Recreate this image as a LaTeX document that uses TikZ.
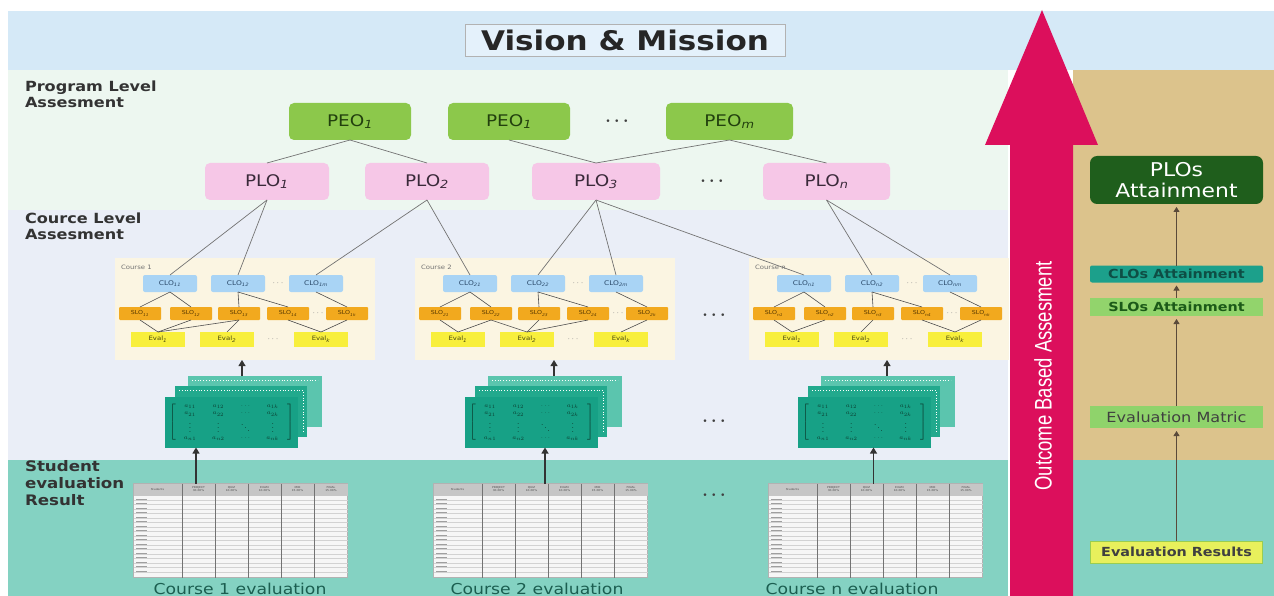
\documentclass[tikz,border=0pt]{standalone}
\usepackage{fontspec}
\usepackage{graphicx}
\setmainfont{DejaVu Sans}[FakeStretch=1.15]
\newfontfamily\narrowfont{Liberation Sans}[FakeStretch=0.77]
\usetikzlibrary{arrows.meta,calc}
\definecolor{bandA}{HTML}{D5E9F7}
\definecolor{bandB}{HTML}{EDF7F0}
\definecolor{bandC}{HTML}{EAEEF7}
\definecolor{bandD}{HTML}{84D2C2}
\definecolor{tanbg}{HTML}{DCC38C}
\definecolor{oba}{HTML}{DC0F5C}
\definecolor{peo}{HTML}{8CC84B}
\definecolor{peotxt}{HTML}{22400E}
\definecolor{plo}{HTML}{F6C7E7}
\definecolor{plotxt}{HTML}{3A2A3A}
\definecolor{clo}{HTML}{A9D4F5}
\definecolor{clotxt}{HTML}{2B4A6A}
\definecolor{slo}{HTML}{F2A91E}
\definecolor{slotxt}{HTML}{5A3A00}
\definecolor{evl}{HTML}{F8EF3C}
\definecolor{evltxt}{HTML}{4A4A10}
\definecolor{crs}{HTML}{FBF5E2}
\definecolor{mat}{HTML}{17A186}
\definecolor{matm}{HTML}{22A98D}
\definecolor{matb}{HTML}{5BC5AE}
\definecolor{matx}{HTML}{0B3D30}
\definecolor{dkgreen}{HTML}{1F5E1C}
\definecolor{capt}{HTML}{1B5E50}
\definecolor{lbl}{HTML}{333333}
\definecolor{visfill}{HTML}{E4F1FB}
\definecolor{cloatt}{HTML}{1CA08B}
\definecolor{cloatttxt}{HTML}{0E4E45}
\definecolor{sloatt}{HTML}{92D46C}
\definecolor{sloatttxt}{HTML}{1C5A18}
\definecolor{evmatc}{HTML}{8FD36B}
\definecolor{evrest}{HTML}{E8F05C}
\definecolor{evresb}{HTML}{9ACD50}
\definecolor{rarrc}{HTML}{5A4A3A}
\newcommand\sbs[1]{\textsubscript{\itshape #1}}
\tikzset{
  every node/.style={inner sep=0pt, outer sep=0pt},
  link/.style={draw=black!55, line width=0.7pt},
  ilink/.style={draw=black!70, line width=0.6pt},
  arr/.style={draw=black!80, line width=1.1pt, -{Triangle[length=6pt,width=7pt]}},
  rarr/.style={draw=rarrc, line width=0.9pt, shorten >=3pt, -{Triangle[length=5pt,width=6pt]}},
  peobox/.style={fill=peo, rounded corners=5pt, minimum width=122pt, minimum height=37pt, text=peotxt, font=\fontsize{16}{16}\selectfont},
  plobox/.style={fill=plo, rounded corners=5pt, minimum width=124pt, minimum height=37pt, text=plotxt, font=\fontsize{16}{16}\selectfont},
  bigdots/.style={font=\fontsize{16}{16}\selectfont\boldmath, text=black!75},
  crsbox/.style={fill=crs, minimum width=260pt, minimum height=102pt},
  crslbl/.style={font=\fontsize{6}{6}\selectfont, text=black!55},
  clobox/.style={fill=clo, rounded corners=2pt, minimum width=54pt, minimum height=17pt, text=clotxt, font=\fontsize{6.5}{6.5}\selectfont},
  slobox/.style={fill=slo, rounded corners=1pt, minimum width=42pt, minimum height=13pt, text=slotxt, font=\fontsize{5.5}{5.5}\selectfont},
  evlbox/.style={fill=evl, minimum width=54pt, minimum height=15pt, text=evltxt, font=\fontsize{6}{6}\selectfont},
  smdots/.style={font=\fontsize{9}{9}\selectfont, text=black!50},
  cardback/.style={fill=matb, minimum width=134pt, minimum height=51pt},
  cardmid/.style={fill=matm, minimum width=132pt, minimum height=51pt},
  cardfront/.style={fill=mat, minimum width=133pt, minimum height=51pt, text=matx, font=\fontsize{6.5}{7.5}\selectfont},
  tabbox/.style={fill=gray!7, draw=gray!60, line width=0.6pt, minimum width=214pt, minimum height=94pt},
  thead/.style={font=\fontsize{2.6}{3}\selectfont, text=black!70, align=center},
  capt/.style={font=\fontsize{15}{15}\selectfont, text=capt},
  lvl/.style={font=\bfseries\fontsize{14}{16}\selectfont, text=lbl, align=left, anchor=north west},
  lvlb/.style={font=\bfseries\fontsize{14.5}{17}\selectfont, text=lbl, align=left, anchor=north west},
}
\newcommand\coursegroup[3]{%
\begin{scope}[xshift=#2pt]
\node[crsbox] (K#1) at (245,309) {};
\node[crslbl, anchor=west] (K#1lbl) at (121,267) {#3};
\node[clobox] (K#1c1) at (170,283.5) {CLO\sbs{#11}};
\node[clobox] (K#1c2) at (238,283.5) {CLO\sbs{#12}};
\node[smdots] (K#1d1) at (278,283.5) {$\cdots$};
\node[clobox] (K#1c3) at (316,283.5) {CLO\sbs{#1m}};
\node[slobox] (K#1s1) at (140,313.5) {SLO\sbs{#11}};
\node[slobox] (K#1s2) at (191,313.5) {SLO\sbs{#12}};
\node[slobox] (K#1s3) at (239,313.5) {SLO\sbs{#13}};
\node[slobox] (K#1s4) at (288,313.5) {SLO\sbs{#14}};
\node[smdots] (K#1d2) at (318,313.5) {$\cdots$};
\node[slobox] (K#1s5) at (347,313.5) {SLO\sbs{#1k}};
\node[evlbox] (K#1e1) at (158,339.5) {Eval\sbs{1}};
\node[evlbox] (K#1e2) at (227,339.5) {Eval\sbs{2}};
\node[smdots] (K#1d3) at (273,339.5) {$\cdots$};
\node[evlbox] (K#1e3) at (321,339.5) {Eval\sbs{k}};
\draw[ilink] (K#1c1.south) -- (K#1s1.north);
\draw[ilink] (K#1c1.south) -- (K#1s2.north);
\draw[ilink] (K#1c2.south) -- (K#1s3.north);
\draw[ilink] (K#1c2.south) -- (K#1s4.north);
\draw[ilink] (K#1c3.south) -- (K#1s5.north);
\draw[ilink] (K#1s1.south) -- (K#1e1.north);
\draw[ilink] (K#1s2.south) -- (K#1e1.north);
\draw[ilink] (K#1s3.south) -- (K#1e2.north);
\draw[ilink] (K#1s5.south) -- (K#1e3.north);
\end{scope}}
\newcommand\stackcards[2]{%
\begin{scope}[xshift=#2pt]
\node[cardback] (B#1) at (255,401.5) {};
\draw[white, dotted, line width=0.8pt] (192,380) -- (318,380);
\node[cardmid] (D#1) at (241,411.5) {};
\draw[white, dotted, line width=0.8pt] (179,390) -- (303,390) -- (303,433);
\node[cardfront] (M#1) at (231.5,422) {{\arraycolsep=8pt\def\arraystretch{1}$\left[\begin{array}{cccc} a_{11} & a_{12} & \cdots & a_{1k}\\ a_{21} & a_{22} & \cdots & a_{2k}\\ \vdots & \vdots & \ddots & \vdots\\ a_{n1} & a_{n2} & \cdots & a_{nk}\end{array}\right]$}};
\end{scope}}
\newcommand\evtable[2]{%
\begin{scope}[xshift=#2pt]
\node[tabbox] (T#1) at (240.5,530.5) {};
\fill[gray!45] (133.5,483.5) rectangle (347.5,495.5);
\foreach \yy in {500,504.5,...,575} {\draw[gray!35, line width=0.3pt] (133.5,\yy) -- (347.5,\yy);}
\foreach \yy in {499,503.5,...,574} {\draw[gray!75, line width=0.9pt] (136,\yy) -- (147,\yy);}
\foreach \xx in {182,215,248,281,314} {\draw[black!55, line width=0.7pt] (\xx,483.5) -- (\xx,577.5);}
\foreach \xx/\lab [count=\i] in {157.5/Students, 198.5/PROJECT\\30.00\%, 231.5/QUIZ\\10.00\%, 264.5/EXAM\\10.00\%, 297.5/MID\\15.00\%, 331/FINAL\\15.00\%} {\node[thead] (T#1h\i) at (\xx,489.5) {\lab};}
\end{scope}}
\begin{document}
\begin{tikzpicture}[x=1pt, y=-1pt]
\useasboundingbox (0,0) rectangle (1274,596);
\fill[white] (0,0) rectangle (1274,596);
% bands
\fill[bandA] (8,11) rectangle (1274,70);
\fill[bandB] (8,70) rectangle (1008,210);
\fill[bandC] (8,210) rectangle (1008,460);
\fill[bandD] (8,460) rectangle (1008,596);
\fill[tanbg] (1073,70) rectangle (1274,460);
\fill[bandD] (1073,460) rectangle (1274,596);
% title
\node[draw=gray!60, line width=0.6pt, fill=visfill, minimum width=320pt, minimum height=32pt, font=\bfseries\fontsize{27}{27}\selectfont, text=black!85] (vm) at (625,40) {Vision \& Mission};
% level labels
\node[lvl] (lbA) at (25,81) {Program Level\\Assesment};
\node[lvl] (lbB) at (25,213) {Cource Level\\Assesment};
\node[lvlb] (lbC) at (25,460) {Student\\evaluation\\Result};
% PEO row
\node[peobox] (peo1) at (350,121.5) {PEO\sbs{1}};
\node[peobox] (peo2) at (509,121.5) {PEO\sbs{1}};
\node[bigdots] (peod) at (617,121.5) {$\cdots$};
\node[peobox, minimum width=127pt] (peom) at (729.5,121.5) {PEO\sbs{m}};
% PLO row
\node[plobox] (plo1) at (267,181.5) {PLO\sbs{1}};
\node[plobox] (plo2) at (427,181.5) {PLO\sbs{2}};
\node[plobox, minimum width=128pt] (plo3) at (596,181.5) {PLO\sbs{3}};
\node[bigdots] (plod) at (712,181.5) {$\cdots$};
\node[plobox, minimum width=127pt] (plon) at (826.5,181.5) {PLO\sbs{n}};
\draw[link] (peo1.south) -- (plo1.north);
\draw[link] (peo1.south) -- (plo2.north);
\draw[link] (peo2.south) -- (plo3.north);
\draw[link] (peom.south) -- (plo3.north);
\draw[link] (peom.south) -- (plon.north);
% courses
\coursegroup{1}{0}{Course 1}
\coursegroup{2}{300}{Course 2}
\coursegroup{n}{634}{Course n}
\draw[ilink] (K1s3.south) -- (K1e1.north);
\draw[ilink] (K1s4.south) -- (K1e3.north);
\draw[ilink] (K2s2.south) -- (K2e2.north);
\draw[ilink] (K2s4.south) -- (K2e2.north);
\draw[ilink] (Kns4.south) -- (Kne3.north);
\node[bigdots] (cd1) at (714,315) {$\cdots$};
% PLO -> CLO
\draw[link] (plo1.south) -- (K1c1.north);
\draw[link] (plo1.south) -- (K1c2.north);
\draw[link] (plo2.south) -- (K1c3.north);
\draw[link] (plo2.south) -- (K2c1.north);
\draw[link] (plo3.south) -- (K2c2.north);
\draw[link] (plo3.south) -- (K2c3.north);
\draw[link] (plo3.south) -- (Knc1.north);
\draw[link] (plon.south) -- (Knc2.north);
\draw[link] (plon.south) -- (Knc3.north);
% matrices
\stackcards{1}{0}
\stackcards{2}{300}
\stackcards{n}{633}
\node[bigdots] (md) at (714,421) {$\cdots$};
\draw[arr] ([xshift=-13pt]B1.north) -- ([xshift=-13pt]B1.north |- K1.south);
\draw[arr] ([xshift=-1pt]B2.north) -- ([xshift=-1pt]B2.north |- K2.south);
\draw[arr] ([xshift=-1pt]Bn.north) -- ([xshift=-1pt]Bn.north |- Kn.south);
% tables
\evtable{1}{0}
\evtable{2}{300}
\evtable{n}{635}
\node[bigdots] (td) at (714,495) {$\cdots$};
\draw[arr] ([xshift=-44.5pt]T1.north) -- ([xshift=-44.5pt]T1.north |- M1.south);
\draw[arr] ([xshift=4.5pt]T2.north) -- ([xshift=4.5pt]T2.north |- M2.south);
\draw[arr] ([xshift=-2pt]Tn.north) -- ([xshift=-2pt]Tn.north |- Mn.south);
\node[capt] (cap1) at (240,589) {Course 1 evaluation};
\node[capt] (cap2) at (537,589) {Course 2 evaluation};
\node[capt] (capn) at (852,589) {Course n evaluation};
% big arrow
\fill[oba] (1010,596) -- (1010,145) -- (985,145) -- (1042,10) -- (1098,145) -- (1073,145) -- (1073,596) -- cycle;
\node[rotate=90, text=white, font=\narrowfont\fontsize{24}{24}\selectfont] (obt) at (1043,376) {Outcome Based Assesment};
% right column
\node[fill=dkgreen, rounded corners=7pt, minimum width=173pt, minimum height=48pt, text=white, font=\fontsize{19}{21}\selectfont, align=center] (ra1) at (1176.5,180) {PLOs\\Attainment};
\node[fill=cloatt, rounded corners=2pt, minimum width=173pt, minimum height=17pt, text=cloatttxt, font=\bfseries\fontsize{12.5}{12.5}\selectfont] (ra2) at (1176.5,274) {CLOs Attainment};
\node[fill=sloatt, minimum width=173pt, minimum height=18pt, text=sloatttxt, font=\bfseries\fontsize{12.5}{12.5}\selectfont] (ra3) at (1176.5,307) {SLOs Attainment};
\node[fill=evmatc, minimum width=173pt, minimum height=22pt, text=black!75, font=\fontsize{14}{14}\selectfont] (ra4) at (1176.5,417) {Evaluation Matric};
\node[fill=evrest, draw=evresb, line width=1pt, minimum width=172pt, minimum height=22pt, text=black!75, font=\bfseries\fontsize{12.5}{12.5}\selectfont] (ra5) at (1176.5,552) {Evaluation Results};
\draw[rarr] (ra5) -- (ra4);
\draw[rarr] (ra4) -- (ra3);
\draw[rarr] (ra3) -- (ra2);
\draw[rarr] (ra2) -- (ra1);
\end{tikzpicture}
\end{document}
